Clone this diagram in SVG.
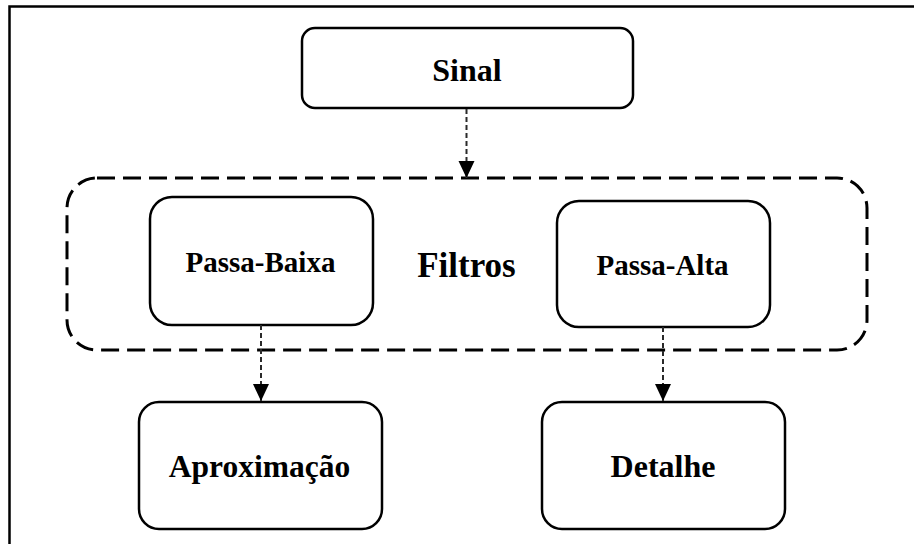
<svg xmlns="http://www.w3.org/2000/svg" width="914" height="544" viewBox="0 0 914 544">
  <defs>
    <marker id="arrow" markerUnits="userSpaceOnUse" markerWidth="16" markerHeight="17" refX="17" refY="8" orient="auto">
      <path d="M0,0 L17,8 L0,16 Z" fill="#000"/>
    </marker>
    <style>
      .box { fill: #fff; stroke: #000; stroke-width: 2.5; }
      .group { fill: none; stroke: #000; stroke-width: 3; stroke-dasharray: 18 8; }
      .label { font-family: "Liberation Serif", "Times New Roman", serif; font-weight: bold; fill: #000; text-anchor: middle; }
      .edge { fill: none; stroke: #2a2a2a; stroke-width: 2; stroke-dasharray: 5 3; marker-end: url(#arrow); }
      .frame { fill: none; stroke: #000; stroke-width: 2.5; }
    </style>
  </defs>

  <rect width="914" height="544" fill="#fff"/>
  <!-- page frame: top and left edges -->
  <path class="frame" d="M9.5,544 L9.5,6.5 L914,6.5"/>

  <!-- filter bank container -->
  <g id="filtros">
    <rect class="group" x="67" y="178" width="800" height="172" rx="30" ry="30"/>
    <text class="label" x="466.5" y="277" font-size="35">Filtros</text>
  </g>

  <g id="sinal">
    <rect class="box" x="302" y="28" width="331" height="80" rx="13" ry="13"/>
    <text class="label" x="467" y="81" font-size="32">Sinal</text>
  </g>

  <g id="passa-baixa">
    <rect class="box" x="150" y="197" width="223" height="128" rx="22" ry="22"/>
    <text class="label" x="260.5" y="272" font-size="29">Passa-Baixa</text>
  </g>

  <g id="passa-alta">
    <rect class="box" x="557" y="201" width="213" height="126" rx="22" ry="22"/>
    <text class="label" x="662.5" y="275" font-size="29">Passa-Alta</text>
  </g>

  <g id="aproximacao">
    <rect class="box" x="139" y="402" width="243" height="127" rx="20" ry="20"/>
    <text class="label" x="259.5" y="477" font-size="31.5">Aproximação</text>
  </g>

  <g id="detalhe">
    <rect class="box" x="542" y="402" width="243" height="127" rx="20" ry="20"/>
    <text class="label" x="663" y="477" font-size="32">Detalhe</text>
  </g>

  <g id="connectors">
    <path class="edge" d="M466.5,109 L466.5,178"/>
    <path class="edge" d="M261,325 L261,401"/>
    <path class="edge" d="M663,327 L663,401"/>
  </g>
</svg>
